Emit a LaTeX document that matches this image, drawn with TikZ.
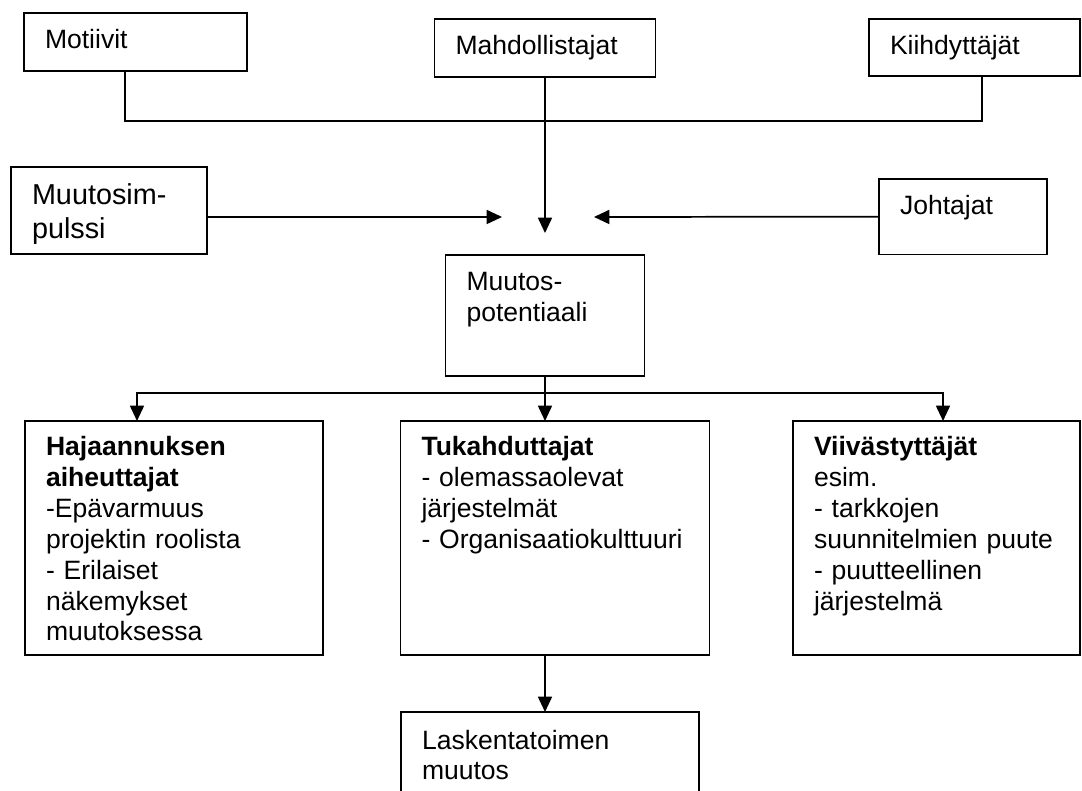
\documentclass[tikz,border=0pt]{standalone}
\usepackage{fontspec}
\setmainfont{Liberation Sans}
\usetikzlibrary{arrows.meta, calc}

\begin{document}
\begin{tikzpicture}[x=0.75pt, y=-0.75pt]
    \tikzset{
        block/.style={rectangle, draw, line width=1.2pt, anchor=north west,
                      inner xsep=15.75pt, inner ysep=0pt, outer sep=0pt, align=left,
                      font=\fontsize{19.9pt}{23.1pt}\selectfont},
        line/.style={line width=1.3pt},
        arrow/.style={line width=1.3pt, -{Triangle[length=11.5pt, width=10.5pt]}}
    }
    \path[use as bounding box, clip] (0,0) rectangle (1082,791);
    % top row
    \node[block, text width=135.75pt, text height=27pt, text depth=16.5pt] (motiivit) at (24,13) {Motiivit};
    \node[block, text width=134.25pt, text height=27pt, text depth=16.5pt] (mahdoll) at (434.5,19) {Mahdollistajat};
    \node[block, text width=126.75pt, text height=27pt, text depth=15.75pt] (kiihd) at (869,19) {Kiihdyttäjät};
    % middle row
    \node[block, text width=115.5pt, text height=28.5pt, text depth=36.75pt,
          font=\fontsize{21.6pt}{25pt}\selectfont] (impulssi) at (11,167) {Muutosim-\\pulssi};
    \node[block, text width=94.5pt, text height=26.5pt, text depth=30pt] (johtajat) at (879,179) {Johtajat};
    \node[block, text width=117.75pt, text height=27pt, text depth=63.75pt] (potent) at (445.5,255) {Muutos-\\potentiaali};
    % bottom row
    \node[block, text width=192pt, text height=26.25pt, text depth=149.25pt] (hajaan) at (25,421)
        {\textbf{Hajaannuksen\\aiheuttajat}\\-Epävarmuus\\projektin roolista\\- Erilaiset\\näkemykset\\muutoksessa};
    \node[block, text width=200.25pt, text height=26.25pt, text depth=149.25pt] (tukahd) at (400.5,421)
        {\textbf{Tukahduttajat}\\- olemassaolevat\\järjestelmät\\- Organisaatiokulttuuri};
    \node[block, text width=183.75pt, text height=26.25pt, text depth=149.25pt] (viiv) at (793,421)
        {\textbf{Viivästyttäjät}\\esim.\\- tarkkojen\\suunnitelmien puute\\- puutteellinen\\järjestelmä};
    \node[block, text width=192pt, text height=27.75pt, text depth=47.25pt] (lask) at (401,712)
        {Laskentatoimen\\muutos};
    % connectors
    \coordinate (top join) at (545,121);
    \coordinate (hub) at (545,217);
    \coordinate (split) at (545,393);
    \draw[line] ($(motiivit.south)+(-10.5,0)$) |- (top join) -| ($(kiihd.south)+(7.5,0)$);
    \draw[arrow] (mahdoll.south) -- ($(hub)+(0,16)$);
    \draw[arrow] (impulssi.east |- hub) -- ($(hub)+(-43,0)$);
    \draw[arrow] (johtajat.west) -- ($(hub)+(49,0)$);
    \draw[line] (potent.south) -- (split);
    \draw[arrow] (split) -| ($(hajaan.north)+(-37,0)$);
    \draw[arrow] (split) -| ($(viiv.north)+(6.5,0)$);
    \draw[arrow] (split) -- (split |- tukahd.north);
    \draw[arrow] (tukahd.south -| split) -- (lask.north -| split);
\end{tikzpicture}
\end{document}
